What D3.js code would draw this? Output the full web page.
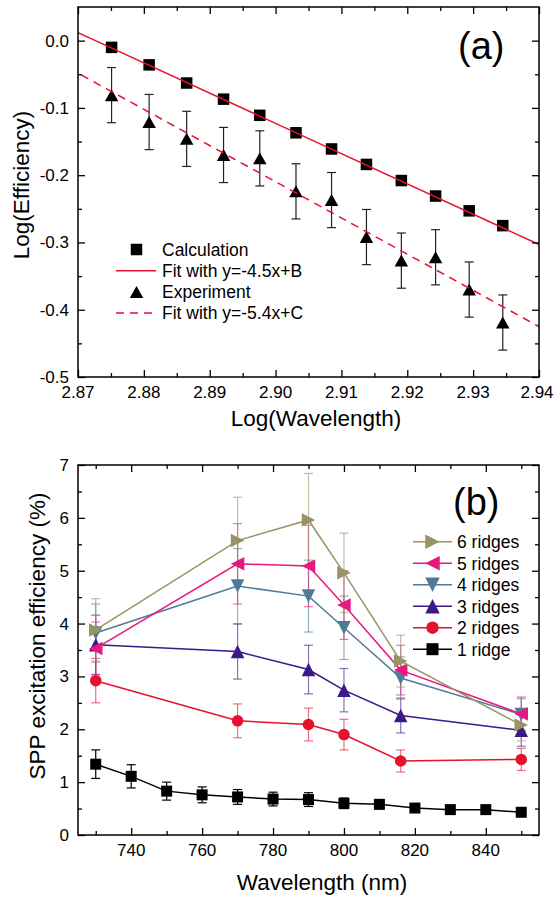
<!DOCTYPE html>
<html lang="en">
<head>
<meta charset="utf-8">
<title></title>
<script src="https://d3js.org/d3.v7.min.js"></script>
<style>
  body { margin: 0; background: #fff; }
  svg { font-family: "Liberation Sans", Arial, sans-serif; }
  .tick line { stroke: #000; stroke-width: 1.3px; }
</style>
</head>
<body>
<svg width="554" height="898"></svg>
<script>
// ---- panel (a) ----
var logWl   = [2.8751, 2.8808, 2.8865, 2.8921, 2.8976, 2.9031, 2.9085, 2.9138, 2.9191, 2.9243, 2.9294, 2.9345];
var calc    = [-0.010, -0.036, -0.063, -0.087, -0.111, -0.137, -0.161, -0.184, -0.208, -0.231, -0.253, -0.275];
var expt    = [-0.081, -0.121, -0.146, -0.170, -0.175, -0.224, -0.237, -0.292, -0.327, -0.322, -0.370, -0.419];
var exptErr = [0.041, 0.041, 0.041, 0.041, 0.041, 0.041, 0.041, 0.041, 0.041, 0.041, 0.041, 0.041];
var fitCalc = [[2.87, 0.012], [2.94, -0.303]];
var fitExpt = [[2.8705, -0.051], [2.94, -0.425]];
var aXTicks = [2.87, 2.88, 2.89, 2.90, 2.91, 2.92, 2.93, 2.94];
var aXMinor = [2.875, 2.885, 2.895, 2.905, 2.915, 2.925, 2.935];
var aYTicks = [0, -0.1, -0.2, -0.3, -0.4, -0.5];
var aYMinor = [-0.05, -0.15, -0.25, -0.35, -0.45];
var aLegend = ["Calculation", "Fit with y=-4.5x+B", "Experiment", "Fit with y=-5.4x+C"];

// ---- panel (b) ----
var wl1       = [730, 740, 750, 760, 770, 780, 790, 800, 810, 820, 830, 840, 850];
var ridge1    = [1.34, 1.11, 0.83, 0.76, 0.72, 0.68, 0.67, 0.60, 0.58, 0.51, 0.48, 0.48, 0.43];
var ridge1Err = [0.27, 0.22, 0.17, 0.15, 0.14, 0.13, 0.13, 0.10, 0.08, 0.05, 0.03, 0.03, 0.03];
var wl        = [730, 770, 790, 800, 816, 850];
var ridge2    = [2.92, 2.16, 2.09, 1.90, 1.40, 1.43];
var ridge2Err = [0.42, 0.32, 0.31, 0.29, 0.21, 0.21];
var ridge3    = [3.60, 3.47, 3.13, 2.74, 2.26, 1.98];
var ridge3Err = [0.56, 0.52, 0.46, 0.41, 0.33, 0.30];
var ridge4    = [3.82, 4.71, 4.52, 3.92, 2.97, 2.28];
var ridge4Err = [0.55, 0.71, 0.68, 0.60, 0.40, 0.30];
var ridge5    = [3.53, 5.13, 5.09, 4.35, 3.12, 2.29];
var ridge5Err = [0.50, 0.76, 0.77, 0.65, 0.47, 0.32];
var ridge6    = [3.88, 5.57, 5.96, 4.96, 3.29, 2.08];
var ridge6Err = [0.59, 0.82, 0.88, 0.75, 0.49, 0.30];
var bXTicks = [740, 760, 780, 800, 820, 840];
var bXMinor = [730, 750, 770, 790, 810, 830, 850];
var bYTicks = [0, 1, 2, 3, 4, 5, 6, 7];
var bYMinor = [0.5, 1.5, 2.5, 3.5, 4.5, 5.5, 6.5];
var bNames = ["1 ridge", "2 ridges", "3 ridges", "4 ridges", "5 ridges", "6 ridges"];

var svg = d3.select("svg");
var W = 461, H = 370;
var red = "#e6112d";

function marker(shape, w, h) {
  var a = w / 2, b = (h || w) / 2;
  switch (shape) {
    case "square": return `M${-a},${-b}H${a}V${b}H${-a}Z`;
    case "circle": return d3.symbol(d3.symbolCircle, Math.PI * a * a)();
    case "up":     return `M0,${-b}L${a},${b}L${-a},${b}Z`;
    case "down":   return `M0,${b}L${a},${-b}L${-a},${-b}Z`;
    case "left":   return `M${-a},0L${a},${-b}L${a},${b}Z`;
    case "right":  return `M${a},0L${-a},${-b}L${-a},${b}Z`;
  }
}

function frame(g, x, y, xMaj, xMin, yMaj, yMin) {
  var axes = [
    [d3.axisBottom(x), `translate(0,${H})`, xMaj, xMin],
    [d3.axisTop(x), "translate(0,0)", xMaj, xMin],
    [d3.axisLeft(y), "translate(0,0)", yMaj, yMin],
    [d3.axisRight(y), `translate(${W},0)`, yMaj, yMin]
  ];
  axes.forEach(function(a) {
    [[a[2], -7], [a[3], -4]].forEach(function(t) {
      g.append("g").attr("transform", a[1])
        .call(a[0].tickValues(t[0]).tickSize(t[1]).tickFormat(""))
        .call(s => s.select(".domain").remove());
    });
  });
  g.append("rect").attr("width", W).attr("height", H)
    .attr("fill", "none").attr("stroke", "#000").attr("stroke-width", 1.5);
}

function tickLabels(g, x, y, xt, yt, fx, fy) {
  // last x label sits on the page edge, nudge it in a little
  g.selectAll(null).data(xt).join("text")
    .attr("x", (d, i) => x(d) - (x(d) > W - 1 ? 2 : 0)).attr("y", H + 21)
    .attr("text-anchor", "middle").attr("font-size", 17).text(fx);
  g.selectAll(null).data(yt).join("text")
    .attr("x", -9).attr("y", d => y(d)).attr("dy", "0.35em")
    .attr("text-anchor", "end").attr("font-size", 17).text(fy);
}

function errorBars(g, x, y, xs, ys, es, color, opacity) {
  var eb = g.append("g").attr("stroke", color).attr("stroke-width", 1.2).attr("stroke-opacity", opacity);
  xs.forEach(function(xv, i) {
    var cx = x(xv), top = y(ys[i] + es[i]), bot = y(ys[i] - es[i]);
    eb.append("line").attr("x1", cx).attr("x2", cx).attr("y1", top).attr("y2", bot);
    eb.append("line").attr("x1", cx - 4.5).attr("x2", cx + 4.5).attr("y1", top).attr("y2", top);
    eb.append("line").attr("x1", cx - 4.5).attr("x2", cx + 4.5).attr("y1", bot).attr("y2", bot);
  });
}

// plain hyphen for negatives, like the original figure
var fmtA = d => d.toFixed(1);

// ================= panel (a) =================
var ga = svg.append("g").attr("transform", "translate(78,7)");
var xa = d3.scaleLinear().domain([2.87, 2.94]).range([0, W]);
var ya = d3.scaleLinear().domain([-0.5, 0.05]).range([H, 0]);

errorBars(ga, xa, ya, logWl, expt, exptErr, "#222", 1);

ga.selectAll(null).data(logWl).join("path")
  .attr("transform", (d, i) => `translate(${xa(d)},${ya(calc[i])})`)
  .attr("d", marker("square", 11.5)).attr("fill", "#000");
ga.selectAll(null).data(logWl).join("path")
  .attr("transform", (d, i) => `translate(${xa(d)},${ya(expt[i])})`)
  .attr("d", marker("up", 13.5, 12)).attr("fill", "#000");

var lineA = d3.line().x(d => xa(d[0])).y(d => ya(d[1]));
ga.append("path").datum(fitCalc).attr("d", lineA)
  .attr("fill", "none").attr("stroke", red).attr("stroke-width", 1.5);
ga.append("path").datum(fitExpt).attr("d", lineA)
  .attr("fill", "none").attr("stroke", red).attr("stroke-width", 1.5)
  .attr("stroke-dasharray", "8,6");

frame(ga, xa, ya, aXTicks, aXMinor, aYTicks, aYMinor);
tickLabels(ga, xa, ya, aXTicks, aYTicks, d => d.toFixed(2), fmtA);

ga.append("text").attr("x", 380).attr("y", 52).attr("font-size", 38).text("(a)");

// legend (a)
var legA = svg.append("g");
var rowsA = [249.5, 270.7, 291.9, 313.1];
legA.append("path").attr("transform", `translate(136.5,${rowsA[0]})`)
  .attr("d", marker("square", 11.5)).attr("fill", "#000");
legA.append("line").attr("x1", 116).attr("x2", 156).attr("y1", rowsA[1]).attr("y2", rowsA[1])
  .attr("stroke", red).attr("stroke-width", 1.5);
legA.append("path").attr("transform", `translate(136.5,${rowsA[2]})`)
  .attr("d", marker("up", 13.5, 12)).attr("fill", "#000");
legA.append("line").attr("x1", 116).attr("x2", 156).attr("y1", rowsA[3]).attr("y2", rowsA[3])
  .attr("stroke", red).attr("stroke-width", 1.5).attr("stroke-dasharray", "8,6");
legA.selectAll(null).data(aLegend).join("text")
  .attr("x", 162).attr("y", (d, i) => rowsA[i]).attr("dy", "0.36em")
  .attr("font-size", 17.5).text(d => d);

svg.append("text").attr("x", 316).attr("y", 426).attr("text-anchor", "middle")
  .attr("font-size", 22.5).text("Log(Wavelength)");
svg.append("text").attr("transform", "translate(28.5,185) rotate(-90)").attr("text-anchor", "middle")
  .attr("font-size", 22.5).text("Log(Efficiency)");

// ================= panel (b) =================
var gb = svg.append("g").attr("transform", "translate(78,465)");
var xb = d3.scaleLinear().domain([725, 855]).range([0, W]);
var yb = d3.scaleLinear().domain([0, 7]).range([H, 0]);

var colors = ["#000000", "#e6112d", "#3c1888", "#4f7b97", "#e8187f", "#9a9464"];
var shapes = ["square", "circle", "up", "down", "left", "right"];
var sizes  = [11, 11.5, 13.5, 13.5, 13.5, 13.5];
var series = [
  {x: wl1, y: ridge1, e: ridge1Err},
  {x: wl, y: ridge2, e: ridge2Err},
  {x: wl, y: ridge3, e: ridge3Err},
  {x: wl, y: ridge4, e: ridge4Err},
  {x: wl, y: ridge5, e: ridge5Err},
  {x: wl, y: ridge6, e: ridge6Err}
];

series.forEach(function(s, k) {
  errorBars(gb, xb, yb, s.x, s.y, s.e, colors[k], k === 0 ? 1 : 0.6);
});
var lineB = d3.line().x(d => xb(d[0])).y(d => yb(d[1]));
series.forEach(function(s, k) {
  var pts = s.x.map((v, i) => [v, s.y[i]]);
  gb.append("path").datum(pts).attr("d", lineB)
    .attr("fill", "none").attr("stroke", colors[k]).attr("stroke-width", 1.5);
  gb.selectAll(null).data(pts).join("path")
    .attr("transform", d => `translate(${xb(d[0])},${yb(d[1])})`)
    .attr("d", marker(shapes[k], sizes[k])).attr("fill", colors[k]);
});

frame(gb, xb, yb, bXTicks, bXMinor, bYTicks, bYMinor);
tickLabels(gb, xb, yb, bXTicks, bYTicks, d => String(d), d => String(d));

gb.append("text").attr("x", 375).attr("y", 50).attr("font-size", 38).text("(b)");

// legend (b), top row is 6 ridges
var legB = svg.append("g");
[5, 4, 3, 2, 1, 0].forEach(function(k, r) {
  var ry = 541.7 + r * 21.5;
  legB.append("line").attr("x1", 413).attr("x2", 452).attr("y1", ry).attr("y2", ry)
    .attr("stroke", colors[k]).attr("stroke-width", 1.5);
  legB.append("path").attr("transform", `translate(432.5,${ry})`)
    .attr("d", marker(shapes[k], sizes[k] + 1)).attr("fill", colors[k]);
  legB.append("text").attr("x", 457).attr("y", ry).attr("dy", "0.36em")
    .attr("font-size", 17.5).text(bNames[k]);
});

svg.append("text").attr("x", 322).attr("y", 890).attr("text-anchor", "middle")
  .attr("font-size", 22.5).text("Wavelength (nm)");
svg.append("text").attr("transform", "translate(44.5,636) rotate(-90)").attr("text-anchor", "middle")
  .attr("font-size", 22.5).text("SPP excitation efficiency (%)");
</script>
</body>
</html>
